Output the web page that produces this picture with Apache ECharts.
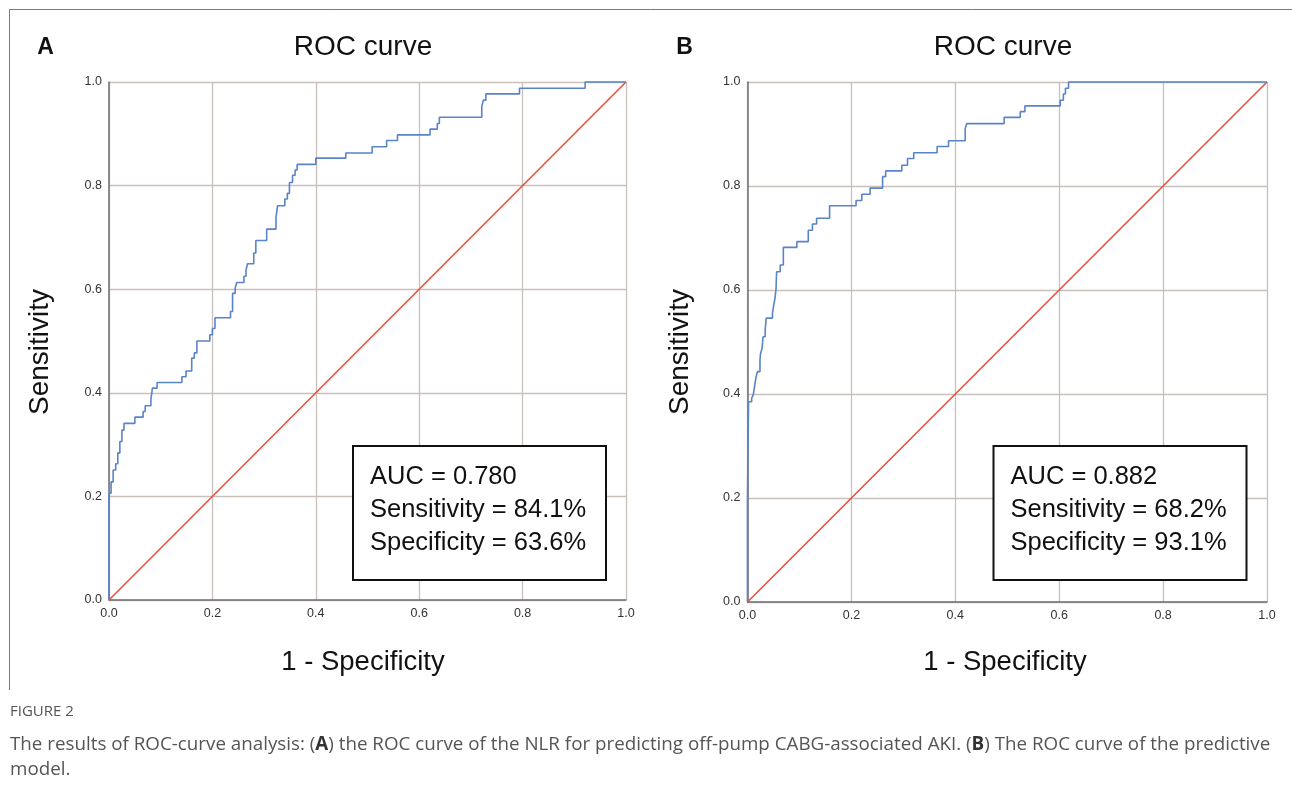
<!DOCTYPE html>
<html>
<head>
<meta charset="utf-8">
<script src="https://cdn.jsdelivr.net/npm/echarts@6/dist/echarts.min.js"></script>
<style>
  html, body { margin: 0; padding: 0; background: #fff; }
  #chart { width: 1292px; height: 787px; }
</style>
</head>
<body>
<div id="chart"></div>
<script>
// ticks shared by both panels
var tickValues = [0, 0.2, 0.4, 0.6, 0.8, 1.0];

// panel A: ROC curve of the NLR (1 - specificity, sensitivity)
var fprA = [0, 0, 0.004, 0.008, 0.013, 0.017, 0.021, 0.025, 0.029, 0.050, 0.066, 0.070, 0.081, 0.084, 0.093,
  0.141, 0.149, 0.160, 0.165, 0.170, 0.195, 0.200, 0.205, 0.235, 0.239, 0.244, 0.247, 0.261, 0.265, 0.268,
  0.280, 0.284, 0.305, 0.323, 0.326, 0.340, 0.345, 0.349, 0.355, 0.360, 0.364, 0.400, 0.458, 0.509, 0.537,
  0.558, 0.621, 0.635, 0.639, 0.721, 0.724, 0.729, 0.794, 0.921, 1.0];
var tprA = [0, 0.206, 0.228, 0.251, 0.263, 0.284, 0.306, 0.328, 0.341, 0.353, 0.364, 0.375, 0.387, 0.409, 0.420,
  0.431, 0.442, 0.467, 0.477, 0.500, 0.512, 0.524, 0.545, 0.557, 0.592, 0.602, 0.613, 0.625, 0.637, 0.649,
  0.670, 0.694, 0.716, 0.738, 0.761, 0.774, 0.785, 0.806, 0.820, 0.830, 0.841, 0.853, 0.863, 0.875, 0.887,
  0.898, 0.909, 0.920, 0.932, 0.952, 0.965, 0.977, 0.988, 1.0, 1.0];

// panel B: ROC curve of the predictive model
var fprB = [0, 0, 0.002, 0.008, 0.011, 0.013, 0.016, 0.019, 0.024, 0.025, 0.028, 0.030, 0.034, 0.036, 0.048,
  0.050, 0.053, 0.055, 0.056, 0.063, 0.069, 0.095, 0.117, 0.125, 0.133, 0.158, 0.209, 0.220, 0.236, 0.260,
  0.266, 0.297, 0.308, 0.320, 0.365, 0.387, 0.419, 0.422, 0.494, 0.525, 0.534, 0.602, 0.608, 0.612, 0.618, 1.0];
var tprB = [0, 0.200, 0.385, 0.392, 0.398, 0.411, 0.430, 0.443, 0.465, 0.477, 0.488, 0.510, 0.523, 0.546, 0.555,
  0.568, 0.585, 0.603, 0.635, 0.648, 0.682, 0.693, 0.715, 0.727, 0.738, 0.762, 0.772, 0.784, 0.796, 0.818,
  0.829, 0.840, 0.853, 0.864, 0.876, 0.887, 0.910, 0.920, 0.932, 0.943, 0.954, 0.965, 0.977, 0.988, 1.0, 1.0];

// reference line
var refX = [0, 1];
var refY = [0, 1];

var statsA = ['AUC = 0.780', 'Sensitivity = 84.1%', 'Specificity = 63.6%'];
var statsB = ['AUC = 0.882', 'Sensitivity = 68.2%', 'Specificity = 93.1%'];

function pairs(xs, ys) {
  var out = [];
  for (var i = 0; i < xs.length; i++) out.push([xs[i], ys[i]]);
  return out;
}

var font = '"Liberation Sans", Arial, sans-serif';
var capFont = '"Open Sans", sans-serif';
var gridColor = '#c9bfbb';
var axisColor = '#707070';

function axis(idx) {
  return {
    type: 'value', gridIndex: idx, min: 0, max: 1, interval: 0.2,
    axisLine: { show: true, lineStyle: { color: axisColor, width: 1.5 } },
    axisTick: { show: false },
    splitLine: { show: true, lineStyle: { color: gridColor, width: 1.3 } },
    axisLabel: { color: '#333', fontSize: 12.5, fontFamily: font, margin: 7,
      formatter: function (v) { return v.toFixed(1); } }
  };
}

function statsBox(x, y, lines) {
  var kids = [
    { type: 'rect', z: 100, shape: { x: x, y: y, width: 253, height: 134 },
      style: { fill: '#fff', stroke: '#111', lineWidth: 2 } }
  ];
  for (var i = 0; i < lines.length; i++) {
    kids.push({ type: 'text', z: 101, x: x + 17, y: y + 31 + i * 33,
      style: { text: lines[i], font: '25.5px ' + font, fill: '#111', verticalAlign: 'middle' } });
  }
  return kids;
}

function label(text, x, y, size, opts) {
  var s = { text: text, font: (opts && opts.bold ? 'bold ' : '') + size + 'px ' + font,
    fill: '#111', align: 'center', verticalAlign: 'middle' };
  return { type: 'text', x: x, y: y, rotation: opts && opts.rot ? Math.PI / 2 : 0, style: s, z: 100 };
}

var chart = echarts.init(document.getElementById('chart'));
chart.setOption({
  animation: false,
  backgroundColor: '#fff',
  grid: [
    { left: 109, top: 82, width: 517, height: 518 },
    { left: 747.5, top: 82, width: 519.5, height: 520 }
  ],
  xAxis: [axis(0), axis(1)],
  yAxis: [axis(0), axis(1)],
  series: [
    { type: 'line', xAxisIndex: 0, yAxisIndex: 0, data: pairs(refX, refY), symbol: 'none',
      lineStyle: { color: '#e8513d', width: 1.6 }, clip: false, z: 3 },
    { type: 'line', xAxisIndex: 0, yAxisIndex: 0, data: pairs(fprA, tprA), symbol: 'none', step: 'end',
      lineStyle: { color: '#5a84c9', width: 1.6 }, clip: false, z: 4 },
    { type: 'line', xAxisIndex: 1, yAxisIndex: 1, data: pairs(refX, refY), symbol: 'none',
      lineStyle: { color: '#e8513d', width: 1.6 }, clip: false, z: 3 },
    { type: 'line', xAxisIndex: 1, yAxisIndex: 1, data: pairs(fprB, tprB), symbol: 'none', step: 'end',
      lineStyle: { color: '#5a84c9', width: 1.6 }, clip: false, z: 4 }
  ],
  graphic: [
    // figure frame
    { type: 'line', shape: { x1: 9.5, y1: 9.5, x2: 1292, y2: 9.5 }, style: { stroke: '#7a7a7a', lineWidth: 1 } },
    { type: 'line', shape: { x1: 9.5, y1: 9.5, x2: 9.5, y2: 690 }, style: { stroke: '#7a7a7a', lineWidth: 1 } },
    label('A', 45.5, 48, 23, { bold: true }),
    label('B', 684.5, 48, 23, { bold: true }),
    label('ROC curve', 363, 47, 28),
    label('ROC curve', 1003, 47, 28),
    label('Sensitivity', 40, 352, 28, { rot: true }),
    label('Sensitivity', 680, 352, 28, { rot: true }),
    label('1 - Specificity', 363, 662, 27.5),
    label('1 - Specificity', 1005, 662, 27.5)
  ].concat(statsBox(353, 446, statsA), statsBox(993.5, 446, statsB), [
    { type: 'text', x: 10, y: 712, style: { text: 'FIGURE 2', font: '15px ' + capFont,
      fill: '#555', verticalAlign: 'middle' } },
    { type: 'text', x: 10, y: 745, style: {
      text: 'The results of ROC-curve analysis: ({b|A}) the ROC curve of the NLR for predicting off-pump CABG-associated AKI. ({b|B}) The ROC curve of the predictive',
      font: '18.8px ' + capFont, fill: '#555', verticalAlign: 'middle',
      rich: { b: { fontWeight: 'bold', fontSize: 18.8, fontFamily: capFont, fill: '#333' } } } },
    { type: 'text', x: 10, y: 770, style: { text: 'model.', font: '18.8px ' + capFont,
      fill: '#555', verticalAlign: 'middle' } }
  ])
});
</script>
</body>
</html>
